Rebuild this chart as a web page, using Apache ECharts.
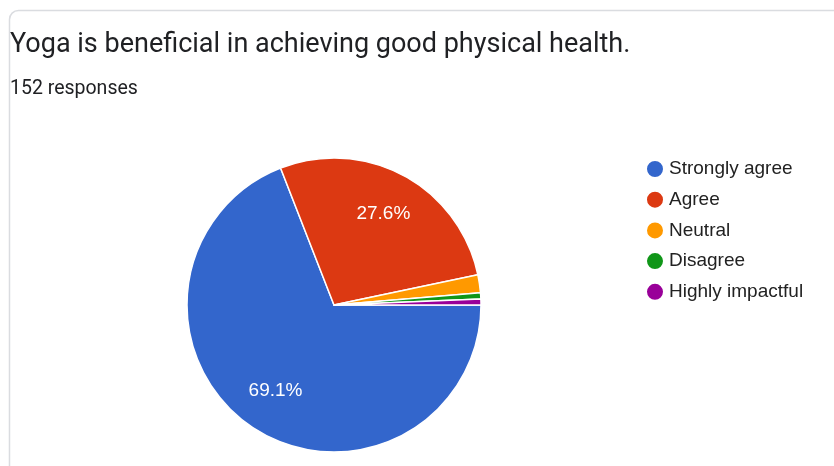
<!DOCTYPE html>
<html>
<head>
<meta charset="utf-8">
<script src="https://cdn.jsdelivr.net/npm/echarts@6/dist/echarts.min.js"></script>
<style>
  html, body { margin: 0; padding: 0; background: #ffffff; }
  #chart { width: 834px; height: 466px; }
</style>
</head>
<body>
<div id="chart"></div>
<script>
// Survey question and answer counts
const questionTitle = 'Yoga is beneficial in achieving good physical health.';
const responseNote = '152 responses';
const answerLabels = ['Strongly agree', 'Agree', 'Neutral', 'Disagree', 'Highly impactful'];
const answerCounts = [105, 42, 3, 1, 1];
const sliceColors = ['#3366cc', '#dc3912', '#ff9900', '#109618', '#990099'];

const pieCenter = [334, 305];
const pieRadius = 147;

const pieData = answerLabels.map((name, i) => ({
  name: name,
  value: answerCounts[i],
  itemStyle: { color: sliceColors[i] }
}));

const chart = echarts.init(document.getElementById('chart'), null, { renderer: 'canvas' });

chart.setOption({
  animation: false,
  backgroundColor: '#ffffff',
  graphic: [
    {
      type: 'rect',
      shape: { x: 9.5, y: 10.5, width: 900, height: 520, r: 9 },
      style: { fill: 'none', stroke: '#dadce0', lineWidth: 1.5 },
      z: 0
    },
    {
      type: 'text',
      left: 10,
      top: 32,
      style: {
        text: questionTitle,
        font: '27px Roboto',
        fill: '#202124'
      }
    },
    {
      type: 'text',
      left: 10,
      top: 79,
      style: {
        text: responseNote,
        font: '19.5px Roboto',
        fill: '#202124'
      }
    }
  ],
  legend: {
    orient: 'vertical',
    left: 640,
    top: 154,
    icon: 'circle',
    itemWidth: 18,
    itemHeight: 18,
    itemGap: 10.7,
    selectedMode: false,
    data: answerLabels,
    textStyle: {
      fontFamily: 'Liberation Sans',
      fontSize: 19,
      color: '#222222',
      padding: 0
    }
  },
  series: [
    {
      type: 'pie',
      center: pieCenter,
      radius: pieRadius,
      startAngle: 0,
      clockwise: true,
      silent: true,
      label: { show: false },
      labelLine: { show: false },
      itemStyle: { borderColor: '#ffffff', borderWidth: 1.5 },
      data: pieData
    },
    {
      // transparent ring carrying the percentage labels at ~0.7 of the radius
      type: 'pie',
      center: pieCenter,
      radius: [pieRadius * 0.37, pieRadius],
      startAngle: 0,
      clockwise: true,
      silent: true,
      percentPrecision: 1,
      itemStyle: { color: 'rgba(0,0,0,0)' },
      labelLine: { show: false },
      label: {
        show: true,
        position: 'inside',
        fontFamily: 'Liberation Sans',
        fontSize: 19,
        color: '#ffffff',
        formatter: p => (p.percent >= 5 ? p.percent.toFixed(1) + '%' : '')
      },
      data: answerLabels.map((name, i) => ({ name: name, value: answerCounts[i] }))
    }
  ]
});
</script>
</body>
</html>
